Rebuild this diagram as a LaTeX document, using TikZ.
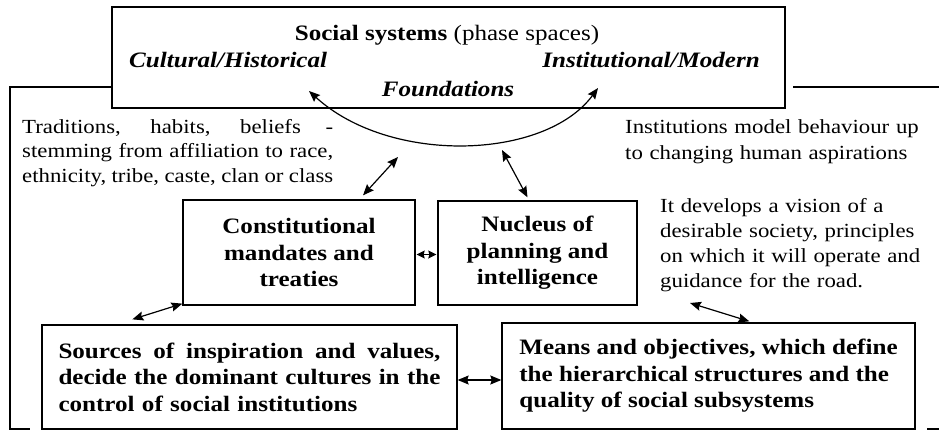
\documentclass[tikz,border=0pt]{standalone}
\usepackage{fontspec}
\setmainfont{Liberation Serif}[FakeStretch=1.14]
\usetikzlibrary{arrows.meta,calc}
% a line set to the full given width, its word spaces stretched evenly
\newcommand{\spreadline}[2]{\leavevmode\hbox to #1{\spaceskip=0.25em plus 1fil\relax #2}}
\begin{document}
\begin{tikzpicture}[x=1pt,y=-1pt,
  box/.style={draw, line width=1.3pt, inner sep=0pt, align=center,
    font=\fontsize{22}{26.5}\selectfont\bfseries},
  plain/.style={font=\fontsize{20}{24.5}\selectfont, inner sep=0pt},
  headtext/.style={font=\fontsize{22}{28}\selectfont, inner sep=0pt},
  tip/.tip={Stealth[length=11pt,width=9pt,inset=1.5pt]},
  smalltip/.tip={Stealth[length=8pt,width=8pt,inset=1pt]},
  link/.style={line width=1.2pt, tip-tip},
  shortlink/.style={line width=1.2pt, smalltip-smalltip},
  rule/.style={line width=1.3pt},
]
\useasboundingbox (0,0) rectangle (939,431);

% top box: social systems
\node[draw, line width=1.3pt, minimum width=673pt, minimum height=101pt, inner sep=0pt] (soc) at (448.5,57.5) {};
\node[headtext, anchor=base] (soct) at (447,40) {\textbf{Social systems} (phase spaces)};
\node[headtext, anchor=base west] (cult) at (129,67) {\bfseries\itshape Cultural/Historical};
\node[headtext, anchor=base east] (inst) at (760,67) {\bfseries\itshape Institutional/Modern};
\node[headtext, anchor=base] (fnd) at (448,96) {\bfseries\itshape Foundations};

% side rules
\coordinate (lt) at (10,87);
\coordinate (lb) at (10,429);
\coordinate (lbe) at (30,429);
\draw[rule] (soc.west |- lt) -- (lt) -- (lb) -- (lbe);
\coordinate (rs) at (793,87);
\coordinate (re) at (939,87);
\draw[rule] (rs) -- (re);
\coordinate (rbs) at (927,429);
\coordinate (rbe) at (939,429);
\draw[rule] (rbs) -- (rbe);

% descriptive texts
\node[plain, text width=311pt, align=left, anchor=base west] (trad) at (22,133)
  {\spreadline{311pt}{Traditions, habits, beliefs -}\\
   \spreadline{311pt}{stemming from affiliation to race,}\\
   \spreadline{311pt}{ethnicity, tribe, caste, clan or class}};
\node[plain, text width=300pt, align=left, anchor=base west,
  font=\fontsize{20}{26.5}\selectfont] (instx) at (625,133)
  {Institutions model behaviour up\\to changing human aspirations};
\node[plain, text width=280pt, align=left, anchor=base west,
  font=\fontsize{20}{25}\selectfont] (vis) at (660,212)
  {It develops a vision of a\\desirable society, principles\\on which it will operate and\\guidance for the road.};

% boxes
\node[box, minimum width=232pt, minimum height=105pt] (con) at (299,252.5)
  {Constitutional\\mandates and\\treaties};
\node[box, minimum width=199pt, minimum height=104pt] (nuc) at (537.5,253)
  {Nucleus of\\planning and\\intelligence};
\node[box, minimum width=415pt, minimum height=104pt, text width=382pt, align=left] (src) at (249.5,377)
  {\spreadline{382pt}{Sources of inspiration and values,}\\
   \spreadline{382pt}{decide the dominant cultures in the}\\
   control of social institutions};
\node[box, minimum width=413pt, minimum height=106pt, align=left] (mea) at (708.5,376)
  {Means and objectives, which define\\the hierarchical structures and the\\quality of social subsystems};

% curved link between the two foundations
\coordinate (cL) at (309,91);
\coordinate (cR) at (598,88);
\draw[link] (cL) .. controls (390,165) and (545,160) .. (cR);

% links
\coordinate (u1) at (398,157);
\draw[link] ($(con.north)+(64,-4)$) -- (u1);
\coordinate (u2) at (502,150);
\draw[link] ($(nuc.north)+(-10,-3)$) -- (u2);
\draw[shortlink] ($(con.east)+(1,2)$) -- ($(con.east -| nuc.west)+(-1,2)$);
\draw[link] ($(con.south west)+(0,-2)$) -- ($(src.north west)+(91,-5)$);
\coordinate (v1) at (690,303);
\draw[link] (v1) -- ($(mea.north west)+(248,-1)$);
\draw[link] ($(src.east)+(0,3)$) -- ($(src.east -| mea.west)+(0,3)$);
\end{tikzpicture}
\end{document}
